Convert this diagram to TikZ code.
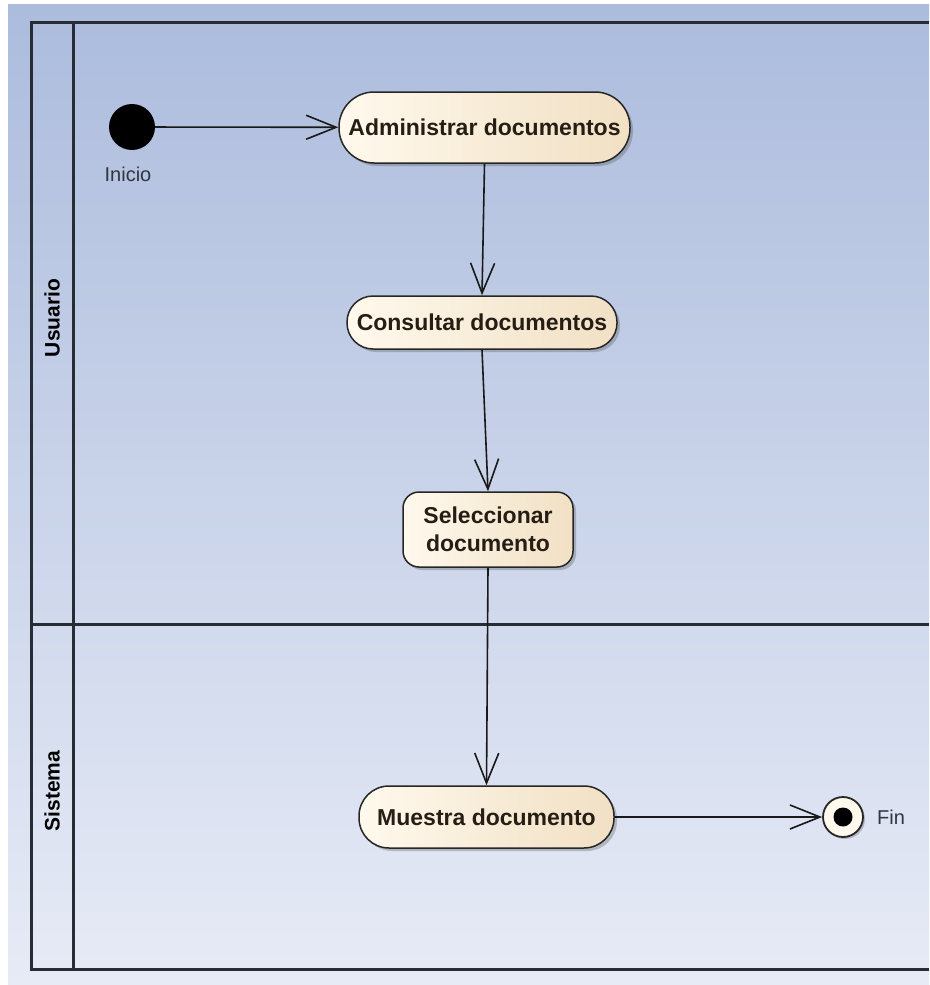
\documentclass[tikz,border=0pt]{standalone}
\usepackage{fontspec}
\setmainfont{Liberation Sans}
\usetikzlibrary{arrows.meta,shadows}

\definecolor{bgtop}{RGB}{172,188,221}
\definecolor{bgbot}{RGB}{231,235,246}
\definecolor{framec}{RGB}{40,44,52}
\definecolor{actL}{RGB}{255,249,237}
\definecolor{actR}{RGB}{241,224,196}
\definecolor{txtc}{RGB}{38,30,20}
\definecolor{labc}{RGB}{50,52,64}

\begin{document}
\begin{tikzpicture}[x=1pt,y=-1pt,
  lane/.style={draw=framec, line width=3pt},
  act/.style={draw=black!85, line width=1.5pt, left color=actL, right color=actR,
    font=\bfseries\fontsize{23}{28}\selectfont, text=txtc, inner sep=0pt, align=center,
    drop shadow={shadow xshift=3pt, shadow yshift=-3pt, opacity=0.3, fill=black!70}},
  flow/.style={draw=black!90, line width=1.6pt,
    -{Straight Barb[length=30pt,width=24pt,line width=1.6pt]}},
  lanelabel/.style={rotate=90, font=\bfseries\fontsize{21}{24}\selectfont, text=black},
  small/.style={font=\fontsize{20}{22}\selectfont, text=labc}]

\useasboundingbox (0,0) rectangle (929,985);
\fill[white] (0,0) rectangle (929,985);
\shade[top color=bgtop, bottom color=bgbot] (8,4) rectangle (929,985);

% swimlane frame
\draw[lane] (929,22) -- (31,22) -- (31,969) -- (929,969);
\draw[lane] (73,22) -- (73,969);
\draw[lane] (31,624) -- (929,624);
\node[lanelabel] (usuario) at (52,318) {Usuario};
\node[lanelabel] (sistema) at (52,791) {Sistema};

% start and end
\node[circle, fill=black, minimum size=46pt, inner sep=0pt] (inicio) at (132,127) {};
\node[small] (inicioL) at (128,174) {Inicio};

\node[circle, draw=black!85, line width=1.8pt, fill=actL, minimum size=40pt, inner sep=0pt,
  drop shadow={shadow xshift=2pt, shadow yshift=-2pt, opacity=0.3, fill=black!70}] (fin) at (843,817) {};
\node[circle, fill=black, minimum size=19pt, inner sep=0pt] (finDot) at (fin.center) {};
\node[small] (finL) at (891,817) {Fin};

% activities
\node[act, minimum width=291pt, minimum height=71pt, rounded corners=35pt] (adm) at (484.5,127.5) {Administrar documentos};
\node[act, minimum width=270pt, minimum height=53pt, rounded corners=26pt] (cons) at (482,322.5) {Consultar documentos};
\node[act, minimum width=170pt, minimum height=75pt, rounded corners=16pt] (sel) at (488,529.5) {Seleccionar\\documento};
\node[act, minimum width=255pt, minimum height=62pt, rounded corners=30pt] (mue) at (486.5,817) {Muestra documento};

% control flow
\draw[flow] (inicio) -- (adm);
\draw[flow] (adm.south) -- (cons.north);
\draw[flow] (cons.south) -- (sel.north);
\draw[flow] (sel.south) -- (mue.north);
\draw[flow] (mue) -- (fin);
\end{tikzpicture}
\end{document}
